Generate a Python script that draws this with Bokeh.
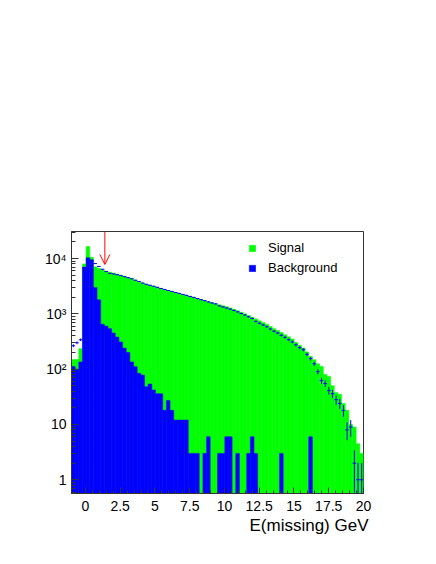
import numpy as np
from bokeh.plotting import figure
from bokeh.models import (Range1d, FixedTicker, CustomJSTickFormatter, Legend,
                          LegendItem, Arrow, OpenHead, Title)
from bokeh.embed import file_html
from bokeh.resources import INLINE

# ---------------- data ----------------
x_min, x_max, n_bins = -1.0, 20.0, 80

signal = [150, 150, 235, 8000, 16500, 10500, 7100, 6600, 6200, 5900,
          5650, 5450, 5250, 5000, 4800, 4550, 4350, 4100, 3850, 3600,
          3450, 3300, 3150, 3000, 2900, 2750, 2650, 2560, 2450, 2350,
          2250, 2150, 2080, 2000, 1900, 1810, 1720, 1650, 1580, 1520,
          1460, 1400, 1340, 1280, 1210, 1140, 1070, 1000, 930, 870,
          810, 750, 700, 650, 590, 540, 500, 460, 420, 385,
          350, 305, 270, 240, 205, 170, 148, 125, 112, 80,
          74, 50, 38, 35, 24, 18, 10, 9, 4.5, 3]

background = [112, 100, 135, 7000, 10300, 9500, 3000, 1800, 650, 600,
              540, 450, 380, 310, 240, 200, 135, 111, 84, 78,
              48, 54, 42, 36, 36, 18, 27, 18, 12, 12,
              12, 12, 3, 3, 3, 0, 3, 6, 0, 0,
              3, 3, 6, 6, 0, 3, 0, 0, 3, 6,
              3, 0, 0, 0, 0, 0, 0, 3, 0, 0,
              0, 0, 0, 0, 0, 6, 0, 0, 0, 0,
              0, 0, 0, 0, 0, 0, 0, 0, 0, 0]

observed = [265, 300, 340, 6800, 10000, 9000, 8100, 7200, 6400, 5800,
            5400, 5250, 5100, 4900, 4700, 4500, 4300, 4050, 3850, 3600,
            3420, 3280, 3150, 3020, 2870, 2760, 2640, 2540, 2430, 2340,
            2240, 2160, 2060, 1980, 1890, 1800, 1730, 1640, 1570, 1510,
            1390, 1330, 1275, 1215, 1150, 1085, 1015, 950, 885, 825,
            730, 675, 630, 585, 530, 485, 450, 410, 375, 340,
            310, 275, 245, 225, 185, 155, 125, 90, 62, 55,
            41, 36, 28, 24, 18, 8, 9, 2, 1, 1]

x_ticks = [0, 2.5, 5, 7.5, 10, 12.5, 15, 17.5, 20]
x_tick_labels = ["0", "2.5", "5", "7.5", "10", "12.5", "15", "17.5", "20"]
y_ticks = [1, 10, 100, 1000, 10000]
y_tick_labels = ["1", "10", "10\u00b2", "10\u00b3", "10\u2074"]

y_min, y_max = 0.565, 30800
cut_x = 1.4
cut_tip = 7800

x_title = "E(missing) GeV"
legend_labels = ["Signal", "Background"]

# ---------------- derived ----------------
edges = np.linspace(x_min, x_max, n_bins + 1)
left, right = edges[:-1], edges[1:]
centers = 0.5 * (left + right)
floor = 1e-3

sig = np.array(signal, dtype=float)
bkg = np.array(background, dtype=float)
obs = np.array(observed, dtype=float)
sig_top = np.where(sig > 0, sig, floor)
bkg_top = np.where(bkg > 0, bkg, floor)
err = np.sqrt(obs)
err_lo = np.maximum(obs - err, floor)
err_hi = obs + err

GREEN = "#00ff00"
BLUE = "#0000ff"
FONT = "Liberation Sans"

p = figure(width=428, height=556,
           x_range=Range1d(x_min, x_max), y_range=Range1d(y_min, y_max),
           y_axis_type="log", output_backend="svg", toolbar_location=None,
           min_border_left=71, min_border_right=65,
           min_border_top=231, min_border_bottom=63)
p.grid.visible = False
p.outline_line_color = "#333333"
p.outline_line_width = 1
p.background_fill_color = "white"
p.border_fill_color = "white"

sig_r = p.quad(left=left, right=right, bottom=floor, top=sig_top,
               fill_color=GREEN, line_color=GREEN, line_width=0.5)
bkg_r = p.quad(left=left, right=right, bottom=floor, top=bkg_top,
               fill_color=BLUE, line_color=BLUE, line_width=0.5)

p.segment(x0=left, x1=right, y0=obs, y1=obs, line_color=BLUE, line_width=1)
p.segment(x0=centers, x1=centers, y0=err_lo, y1=err_hi, line_color=BLUE, line_width=1)

# axes
xminor = list(np.arange(x_min, x_max + 0.001, 0.5))
p.xaxis.ticker = FixedTicker(ticks=x_ticks, minor_ticks=xminor)
p.xaxis.formatter = CustomJSTickFormatter(
    args=dict(tv=x_ticks, tl=x_tick_labels),
    code="""
    let best = 0;
    for (let i = 0; i < tv.length; i++) {
        if (Math.abs(tv[i] - tick) < Math.abs(tv[best] - tick)) best = i;
    }
    return tl[best];
    """)
yminor = [k * 10.0 ** d for d in range(-1, 5) for k in range(2, 10)
          if y_min <= k * 10.0 ** d <= y_max]
p.yaxis.ticker = FixedTicker(ticks=y_ticks, minor_ticks=yminor)
p.yaxis.formatter = CustomJSTickFormatter(
    args=dict(tv=y_ticks, tl=y_tick_labels),
    code="""
    let best = 0;
    for (let i = 0; i < tv.length; i++) {
        if (Math.abs(Math.log10(tv[i]) - Math.log10(tick)) <
            Math.abs(Math.log10(tv[best]) - Math.log10(tick))) best = i;
    }
    return tl[best];
    """)

for ax in (p.xaxis[0], p.yaxis[0]):
    ax.axis_line_color = "#333333"
    ax.major_tick_line_color = "#333333"
    ax.minor_tick_line_color = "#333333"
    ax.major_tick_out = 0
    ax.minor_tick_out = 0
    ax.major_label_text_font = FONT
    ax.major_label_text_font_size = "14px"
    ax.major_label_text_color = "black"

p.xaxis.major_tick_in = 6
p.xaxis.minor_tick_in = 3
p.xaxis.major_label_standoff = 7
p.yaxis.major_tick_in = 7
p.yaxis.minor_tick_in = 4
p.yaxis.major_label_standoff = 5

# x title, right aligned at the end of the axis
p.add_layout(Title(text=x_title, align="right", offset=-5, standoff=0,
                   text_font=FONT, text_font_size="17px",
                   text_font_style="normal", text_color="black"), "below")

# legend
legend = Legend(items=[LegendItem(label=legend_labels[0], renderers=[sig_r]),
                       LegendItem(label=legend_labels[1], renderers=[bkg_r])],
                location=(177, 218), glyph_width=8, glyph_height=8,
                label_standoff=12, spacing=5, padding=0, margin=0,
                border_line_color=None, background_fill_alpha=0,
                label_text_font=FONT, label_text_font_size="13px",
                label_text_color="black")
p.add_layout(legend)

# red arrow marking the cut
p.add_layout(Arrow(end=OpenHead(size=10, line_color="red", line_width=1),
                   x_start=cut_x, y_start=y_max, x_end=cut_x, y_end=cut_tip,
                   line_color="red", line_width=1))

open("out.html", "w").write(file_html(p, INLINE))
